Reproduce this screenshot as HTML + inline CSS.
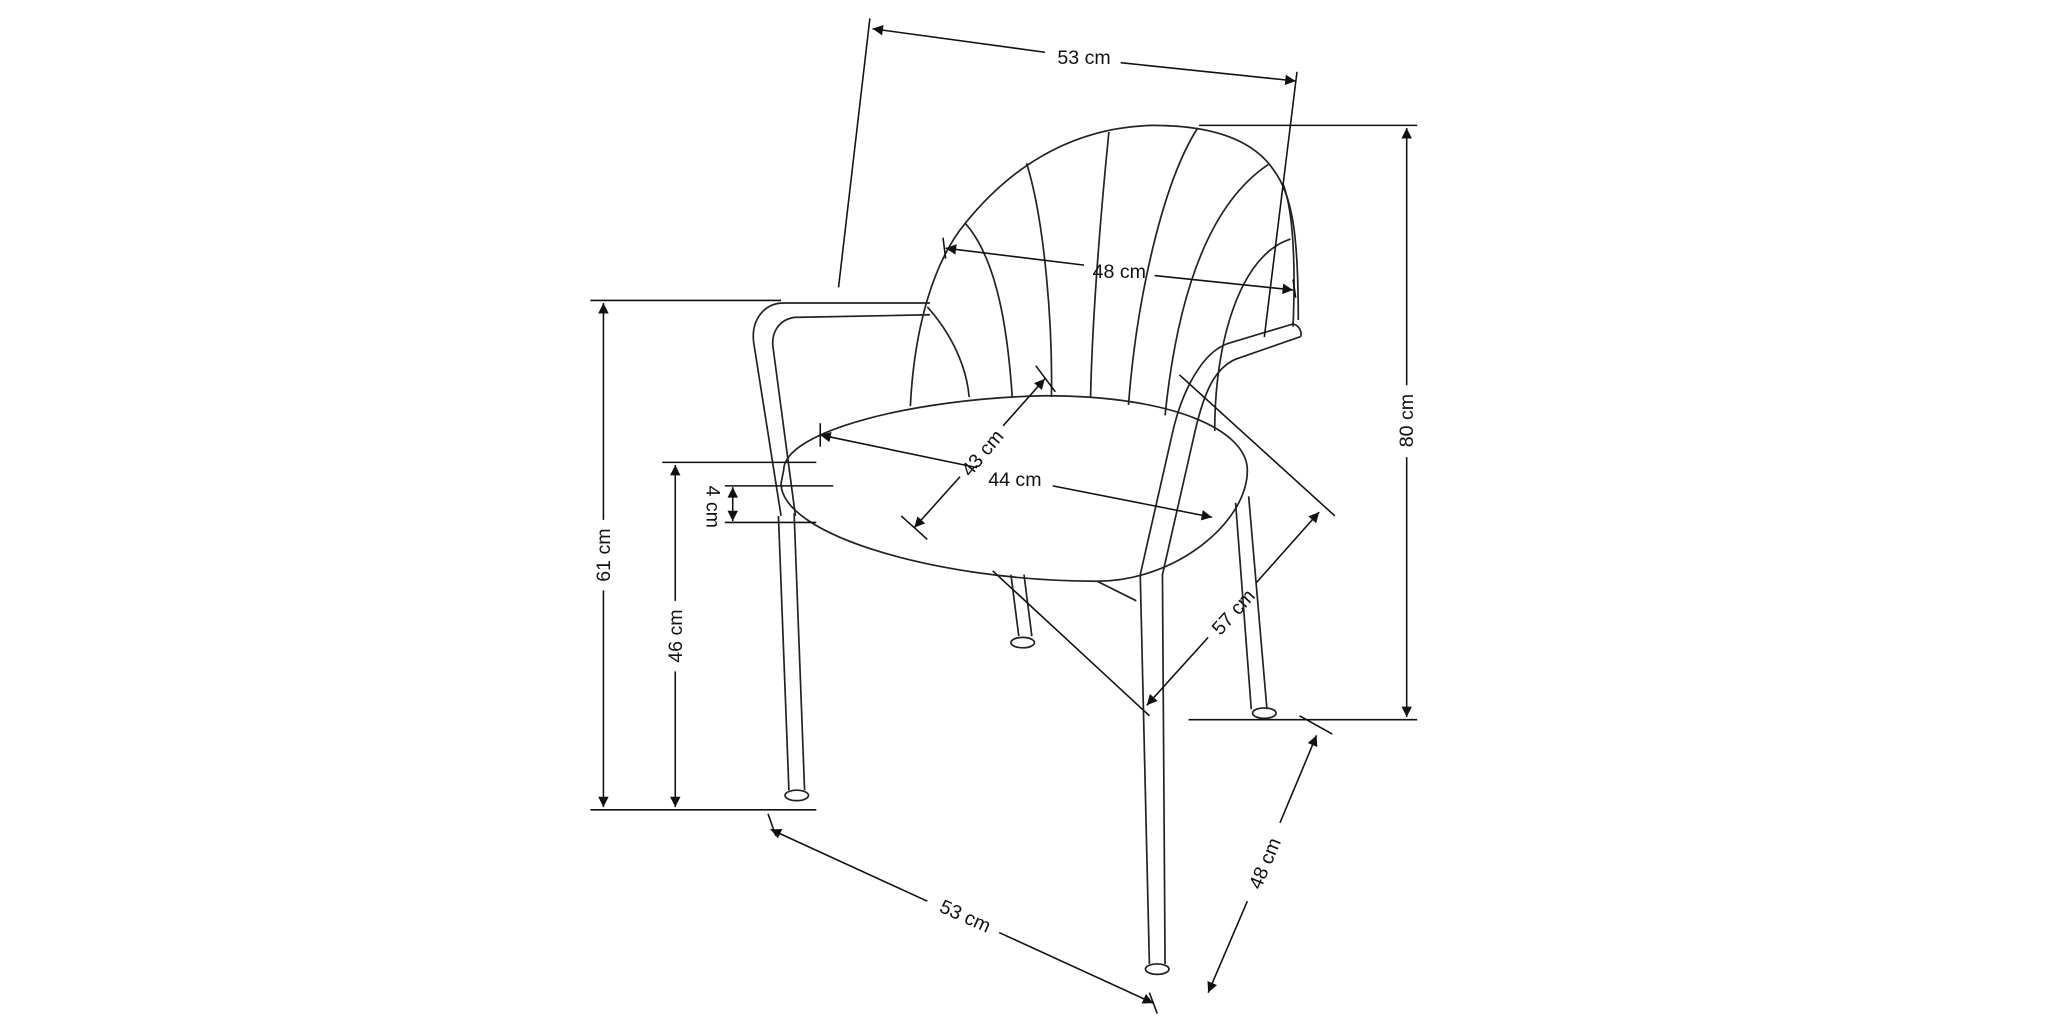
<!DOCTYPE html>
<html><head><meta charset="utf-8"><style>
html,body{margin:0;padding:0;background:#fff;width:2048px;height:1024px;overflow:hidden}
svg{display:block}
text{font-family:"Liberation Sans",sans-serif;font-size:15px;fill:#111}
</style></head><body>
<svg width="2048" height="1024" viewBox="0 0 1568 784" xmlns="http://www.w3.org/2000/svg">
<defs>
<marker id="a" viewBox="0 0 10 10" refX="10" refY="5" markerWidth="10" markerHeight="8" orient="auto-start-reverse" markerUnits="userSpaceOnUse"><path d="M0,0 L10,5 L0,10 z" fill="#111"/></marker>
</defs>
<g fill="none" stroke="#222" stroke-width="1.3">
<!-- backrest outline -->
<path d="M697,311 C700,250 715,200 739,171 C780,120 830,97 883,96 C930,96 960,108 975,130 C990,150 994,181 994,245"/>
<path d="M982,140 C990,160 992,200 990,250"/>
<!-- ribs -->
<path d="M710,235 C728,255 740,280 742,304"/>
<path d="M739,171 C765,200 772,260 775,304"/>
<path d="M786,125 C800,170 806,250 805,304"/>
<path d="M849,101 C842,170 836,250 835,304"/>
<path d="M917,98 C890,140 870,230 864,310"/>
<path d="M971,126 C920,160 900,240 892,318"/>
<path d="M988,183 C950,195 930,260 930,330"/>
<!-- seat -->
<path d="M600,360 C600,330 700,305 800,303 C900,303 955,330 955,360 C955,400 900,445 840,445 C720,445 598,410 598,370 Z"/>
<!-- left armrest -->
<path d="M712,232 L600,232 C585,232 575,245 577,262 L598,395"/>
<path d="M712,241 L608,243 C596,245 590,255 592,267 L609,395"/>
<!-- left front leg -->
<path d="M596,395 L604,605 M608,393 L616,605"/>
<ellipse cx="610" cy="609" rx="9" ry="4"/>
<!-- left back leg -->
<path d="M774,440 L780,487 M784,440 L790,487"/>
<ellipse cx="783" cy="492" rx="9" ry="4"/>
<!-- right armrest -->
<path d="M990,248 L940,263 C920,270 905,300 898,330 L873,440 L880,738"/>
<path d="M995,258 L946,275 C930,282 922,300 915,330 L890,440 L892,738"/>
<path d="M990,248 C997,250 997,258 995,258"/>
<path d="M840,445 L870,460"/>
<!-- right back leg -->
<path d="M946,385 L958,543 M956,380 L970,543"/>
<ellipse cx="968" cy="546" rx="9" ry="4"/>
<ellipse cx="886" cy="742" rx="9" ry="4"/>
</g>
<g fill="none" stroke="#111" stroke-width="1.2">
<!-- top 53 -->
<path d="M666,14 L642,220 M993,55 L968,258"/>
<line x1="668" y1="22" x2="800" y2="40" marker-start="url(#a)"/>
<line x1="858" y1="48" x2="992" y2="62" marker-end="url(#a)"/>
<!-- 48 inner -->
<path d="M722,182 L724,198 M990,214 L992,228"/>
<line x1="724" y1="190" x2="830" y2="203" marker-start="url(#a)"/>
<line x1="884" y1="211" x2="990" y2="222" marker-end="url(#a)"/>
<!-- 80 -->
<path d="M918,96 L1085,96 M910,551 L1085,551"/>
<line x1="1077" y1="98" x2="1077" y2="295" marker-start="url(#a)"/>
<line x1="1077" y1="350" x2="1077" y2="549" marker-end="url(#a)"/>
<!-- 61 -->
<path d="M452,230 L598,230 M452,620 L625,620"/>
<line x1="462" y1="232" x2="462" y2="398" marker-start="url(#a)"/>
<line x1="462" y1="452" x2="462" y2="618" marker-end="url(#a)"/>
<!-- 46 -->
<path d="M507,354 L625,354"/>
<line x1="517" y1="356" x2="517" y2="460" marker-start="url(#a)"/>
<line x1="517" y1="514" x2="517" y2="618" marker-end="url(#a)"/>
<!-- 4 -->
<path d="M555,372 L638,372 M555,400 L625,400"/>
<line x1="561" y1="386" x2="561" y2="373" marker-end="url(#a)"/>
<line x1="561" y1="386" x2="561" y2="399" marker-end="url(#a)"/>
<!-- 43 -->
<path d="M793,280 L808,300 M690,395 L710,413"/>
<line x1="800" y1="290" x2="768" y2="326" marker-start="url(#a)"/>
<line x1="735" y1="365" x2="700" y2="404" marker-end="url(#a)"/>
<!-- 44 -->
<path d="M628,324 L628,342"/>
<line x1="628" y1="333" x2="748" y2="358" marker-start="url(#a)"/>
<line x1="806" y1="372" x2="928" y2="396" marker-end="url(#a)"/>
<!-- 57 -->
<path d="M903,287 L1022,395 M760,437 L880,548"/>
<line x1="1010" y1="392" x2="962" y2="446" marker-start="url(#a)"/>
<line x1="925" y1="488" x2="878" y2="540" marker-end="url(#a)"/>
<!-- 48 bottom -->
<path d="M995,548 L1020,562"/>
<line x1="1008" y1="563" x2="980" y2="630" marker-start="url(#a)"/>
<line x1="955" y1="690" x2="925" y2="760" marker-end="url(#a)"/>
<!-- 53 bottom -->
<path d="M588,623 L594,640 M880,760 L886,776"/>
<line x1="590" y1="635" x2="710" y2="690" marker-start="url(#a)"/>
<line x1="765" y1="714" x2="883" y2="768" marker-end="url(#a)"/>
</g>
<text x="830" y="49" text-anchor="middle">53 cm</text>
<text x="857" y="213" text-anchor="middle">48 cm</text>
<text transform="translate(1082,322) rotate(-90)" text-anchor="middle">80 cm</text>
<text transform="translate(467,425) rotate(-90)" text-anchor="middle">61 cm</text>
<text transform="translate(522,487) rotate(-90)" text-anchor="middle">46 cm</text>
<text transform="translate(541,388) rotate(90)" text-anchor="middle">4 cm</text>
<text transform="translate(756,350) rotate(-50)" text-anchor="middle">43 cm</text>
<text x="777" y="372" text-anchor="middle">44 cm</text>
<text transform="translate(948,472) rotate(-48)" text-anchor="middle">57 cm</text>
<text transform="translate(973,663) rotate(-67)" text-anchor="middle">48 cm</text>
<text transform="translate(737,706) rotate(24)" text-anchor="middle">53 cm</text>
</svg>
</body></html>
